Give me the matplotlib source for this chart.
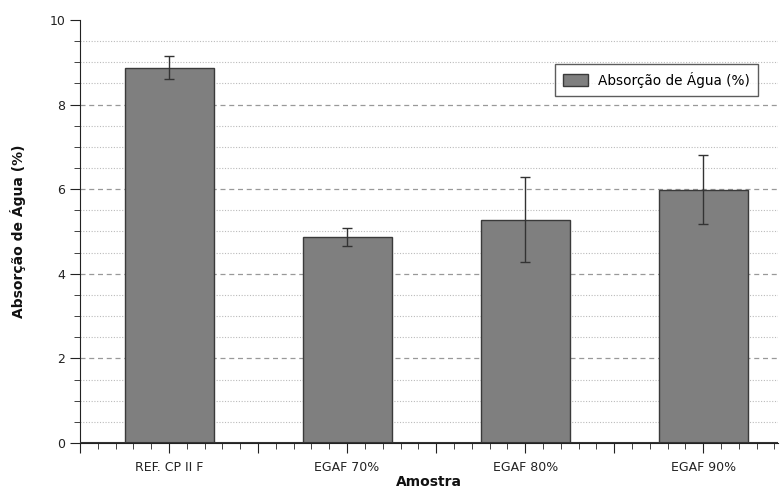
import numpy as np
import matplotlib.pyplot as plt
from matplotlib.ticker import MultipleLocator

categories = ["REF. CP II F", "EGAF 70%", "EGAF 80%", "EGAF 90%"]
absorcao = [8.87, 4.87, 5.28, 5.99]
erro = [0.27, 0.21, 1.0, 0.81]

fig = plt.figure(figsize=(7.8, 4.9), dpi=100)
ax = fig.add_axes([80 / 780, 47 / 490, 698 / 780, 423 / 490])

x = np.arange(len(categories))
ax.bar(x, absorcao, width=0.5, color="#7f7f7f", edgecolor="#3a3a3a",
       linewidth=1.0, label="Absorção de Água (%)", zorder=3)
ax.errorbar(x, absorcao, yerr=erro, fmt="none", ecolor="#333333",
            elinewidth=1.0, capsize=3.5, capthick=1.0, zorder=4)
ax.axhline(0, color="#333333", linewidth=1.5, zorder=5)

ax.set_ylim(0, 10)
ax.set_xlim(-0.5, 3.42)
ax.yaxis.set_major_locator(MultipleLocator(2))
ax.yaxis.set_minor_locator(MultipleLocator(0.5))
ax.xaxis.set_minor_locator(MultipleLocator(0.1))
ax.set_xticks(np.arange(-0.5, 3.5, 0.5))
ax.set_xticklabels(["", categories[0], "", categories[1], "", categories[2],
                    "", categories[3]])

# grid lines (none at the top edge)
for yv in np.arange(2, 10, 2):
    ax.axhline(yv, linestyle=(0, (4, 3)), color="#999999", linewidth=0.9,
               zorder=0)
for yv in np.arange(0.5, 10, 0.5):
    if yv % 2 != 0:
        ax.axhline(yv, linestyle=(0, (1, 1.5)), color="#bbbbbb",
                   linewidth=0.8, zorder=0)

for side in ["top", "right"]:
    ax.spines[side].set_visible(False)
ax.spines["left"].set_color("#222222")
ax.spines["bottom"].set_color("#222222")
ax.tick_params(axis="both", which="major", length=7, color="#222222",
               labelsize=9, labelcolor="#222222")
ax.tick_params(axis="both", which="minor", length=4, color="#222222")
ax.tick_params(axis="x", which="major", pad=6)

ax.set_ylabel("Absorção de Água (%)", fontsize=10, fontweight="bold",
              color="#111111", labelpad=17)
ax.set_xlabel("Amostra", fontsize=10, fontweight="bold", color="#111111",
              labelpad=1)

leg = ax.legend(loc="upper right", bbox_to_anchor=(0.972, 0.897),
                borderaxespad=0, fontsize=9.8, frameon=True, fancybox=False,
                edgecolor="#333333", handlelength=1.8, handleheight=0.9,
                handletextpad=0.8, borderpad=0.6)
leg.get_frame().set_linewidth(1.0)

fig.savefig("out.png", dpi=100)
